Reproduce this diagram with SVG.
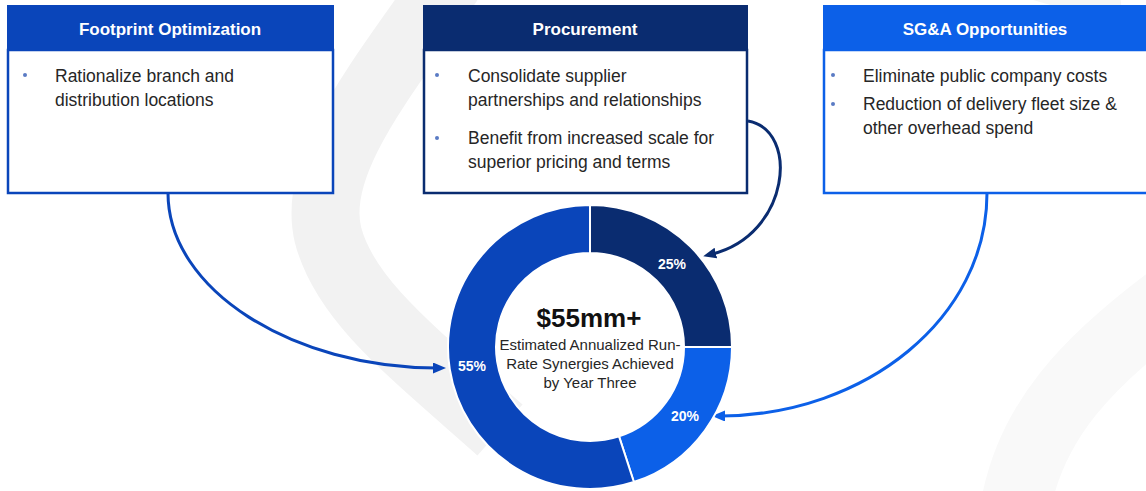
<svg xmlns="http://www.w3.org/2000/svg" width="1146" height="491" viewBox="0 0 1146 491">
<style>
.hdr{font-family:"Liberation Sans",Arial,sans-serif;font-weight:bold;font-size:17px;fill:#fff;text-anchor:middle}
.body{font-family:"Liberation Sans",Arial,sans-serif;font-size:17.5px;fill:#262626}
.pct{font-family:"Liberation Sans",Arial,sans-serif;font-weight:bold;font-size:14px;fill:#fff;text-anchor:middle}
.ctr{font-family:"Liberation Sans",Arial,sans-serif;font-size:15px;fill:#262626;text-anchor:middle}
.big{font-family:"Liberation Sans",Arial,sans-serif;font-weight:bold;font-size:26px;fill:#111;text-anchor:middle}
.bul{fill:#5a7bc4}
.conn{fill:none;stroke-width:3}
.seg{stroke:#fff;stroke-width:2}
</style>
<defs>
<marker id="arrA" viewBox="0 0 13 11" refX="4" refY="5.5" markerWidth="13" markerHeight="11" markerUnits="userSpaceOnUse" orient="auto"><path d="M0,0 L13,5.5 L0,11 z" fill="#0a45ba"/></marker>
<marker id="arrB" viewBox="0 0 13 11" refX="4" refY="5.5" markerWidth="13" markerHeight="11" markerUnits="userSpaceOnUse" orient="auto"><path d="M0,0 L13,5.5 L0,11 z" fill="#0a2c70"/></marker>
<marker id="arrC" viewBox="0 0 13 11" refX="4" refY="5.5" markerWidth="13" markerHeight="11" markerUnits="userSpaceOnUse" orient="auto"><path d="M0,0 L13,5.5 L0,11 z" fill="#0c60e8"/></marker>
</defs>
<rect width="1146" height="491" fill="#fff"/>
<g id="background">
<path d="M450,-20 C390,70 310,160 328,235 C345,300 410,350 500,430" fill="none" stroke="#f2f2f2" stroke-width="68"/>
<path d="M1170,300 C1090,360 1030,420 1015,510" fill="none" stroke="#f9f9f9" stroke-width="70"/>
<path d="M1000,-30 C1040,-10 1080,0 1120,-5" fill="none" stroke="#f5f5f5" stroke-width="30"/>
</g>
<g id="connectors">
<path class="conn" stroke="#0a45ba" d="M168,193 C168,290 293,368 437,368" marker-end="url(#arrA)"/>
<path class="conn" stroke="#0a2c70" d="M748,121 C800,130 790,235 712,254" marker-end="url(#arrB)"/>
<path class="conn" stroke="#0c60e8" d="M987,193 C987,318 866,415 721,416" marker-end="url(#arrC)"/>
</g>
<g id="node-footprint">
<rect x="8" y="50" width="325" height="143" fill="#fff" stroke="#0a45ba" stroke-width="2.5"/>
<rect x="7" y="5" width="327" height="45" fill="#0a45ba"/>
<text class="hdr" x="170" y="35">Footprint Optimization</text>
<circle class="bul" cx="25" cy="75" r="2"/>
<text class="body" x="55" y="82">Rationalize branch and</text>
<text class="body" x="55" y="106">distribution locations</text>
</g>
<g id="node-procurement">
<rect x="424" y="50" width="323" height="143" fill="#fff" stroke="#0a2c70" stroke-width="2.5"/>
<rect x="423" y="5" width="325" height="45" fill="#0a2c70"/>
<text class="hdr" x="585" y="35">Procurement</text>
<circle class="bul" cx="437" cy="75" r="2"/>
<text class="body" x="468" y="82">Consolidate supplier</text>
<text class="body" x="468" y="106">partnerships and relationships</text>
<circle class="bul" cx="437" cy="138" r="2"/>
<text class="body" x="468" y="144">Benefit from increased scale for</text>
<text class="body" x="468" y="168">superior pricing and terms</text>
</g>
<g id="node-sga">
<rect x="824" y="50" width="330" height="143" fill="#fff" stroke="#0c60e8" stroke-width="2.5"/>
<rect x="823" y="5" width="330" height="45" fill="#0c60e8"/>
<text class="hdr" x="985" y="35">SG&amp;A Opportunities</text>
<circle class="bul" cx="833" cy="75" r="2"/>
<text class="body" x="863" y="82">Eliminate public company costs</text>
<circle class="bul" cx="833" cy="104" r="2"/>
<text class="body" x="863" y="110">Reduction of delivery fleet size &amp;</text>
<text class="body" x="863" y="134">other overhead spend</text>
</g>
<g id="node-donut">
<path class="seg" fill="#0a2c70" d="M590,205 A142,142 0 0 1 732,347 L684,347 A94,94 0 0 0 590,253 Z"/>
<path class="seg" fill="#0c60e8" d="M732,347 A142,142 0 0 1 633.88,482.05 L619.05,436.4 A94,94 0 0 0 684,347 Z"/>
<path class="seg" fill="#0a45ba" d="M633.88,482.05 A142,142 0 1 1 590,205 L590,253 A94,94 0 1 0 619.05,436.4 Z"/>
<text class="pct" x="672" y="269">25%</text>
<text class="pct" x="685" y="421">20%</text>
<text class="pct" x="472" y="371">55%</text>
<text class="big" x="589" y="327">$55mm+</text>
<text class="ctr" x="590" y="350">Estimated Annualized Run-</text>
<text class="ctr" x="590" y="369">Rate Synergies Achieved</text>
<text class="ctr" x="590" y="388">by Year Three</text>
</g>
</svg>
